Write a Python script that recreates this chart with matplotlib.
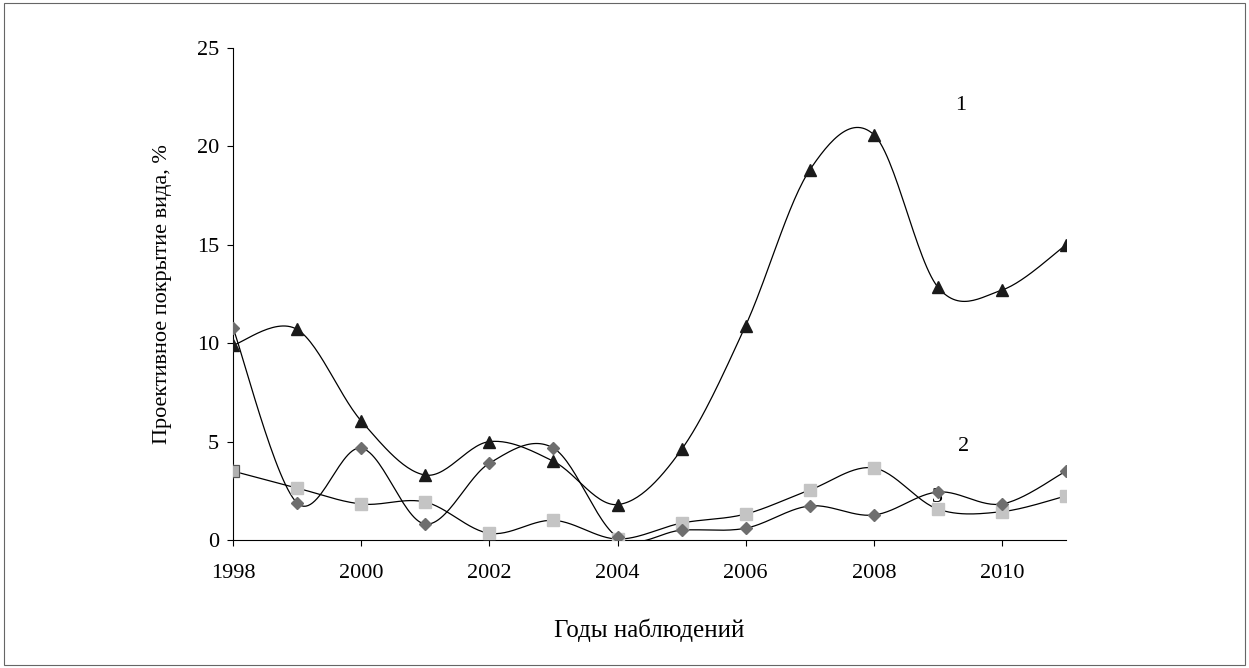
import numpy as np
import matplotlib.pyplot as plt

years = list(range(1998, 2012))
s1 = [9.9, 10.7, 6.05, 3.3, 5.0, 4.0, 1.8, 4.6, 10.9, 18.8, 20.6, 12.85, 12.7, 15.0]
s2 = [10.77, 1.88, 4.67, 0.81, 3.9, 4.67, 0.15, 0.5, 0.6, 1.73, 1.27, 2.44, 1.83, 3.5]
s3 = [3.5, 2.64, 1.83, 1.93, 0.34, 1.0, 0.05, 0.86, 1.32, 2.54, 3.66, 1.57, 1.44, 2.24]


def smooth(x, y, n=30):
    # Excel-like smoothed line: cubic Bezier with Catmull-Rom control points
    x = np.asarray(x, float)
    y = np.asarray(y, float)
    px = np.concatenate([[x[0]], x, [x[-1]]])
    py = np.concatenate([[y[0]], y, [y[-1]]])
    t = np.linspace(0, 1, n)[:, None]
    out_x, out_y = [], []
    for i in range(1, len(px) - 2):
        p0 = np.array([px[i], py[i]])
        p3 = np.array([px[i + 1], py[i + 1]])
        c1 = p0 + (p3 - np.array([px[i - 1], py[i - 1]])) / 6
        c2 = p3 - (np.array([px[i + 2], py[i + 2]]) - p0) / 6
        b = ((1 - t) ** 3) * p0 + 3 * ((1 - t) ** 2) * t * c1 + 3 * (1 - t) * t ** 2 * c2 + t ** 3 * p3
        out_x.extend(b[:, 0])
        out_y.extend(b[:, 1])
    return out_x, out_y


plt.rcParams['font.family'] = ['Liberation Serif', 'DejaVu Serif']

fig = plt.figure(figsize=(12.49, 6.68), dpi=100)
ax = fig.add_axes([0.1866, 0.1916, 0.6669, 0.7365])

for ys in (s1, s2, s3):
    sx, sy = smooth(years, ys)
    ax.plot(sx, sy, color='black', lw=0.9, zorder=2)

ax.text(2009.0, 2.15, '3', fontsize=16, ha='center', va='center', zorder=1)
ax.plot(years, s3, ls='none', marker='s', ms=8, color='#c4c4c4', mec='#c4c4c4', zorder=3)
ax.plot(years[0], s3[0], ls='none', marker='s', ms=8, color='#b0b0b0', mec='#555555', mew=0.8, zorder=4)
ax.plot(years, s2, ls='none', marker='D', ms=6.5, color='#6e6e6e', mec='#6e6e6e', zorder=3)
ax.plot(years, s1, ls='none', marker='^', ms=9, color='#1a1a1a', mec='#1a1a1a', zorder=3)

ax.text(2009.35, 22.1, '1', fontsize=16, ha='center', va='center')
ax.text(2009.4, 4.75, '2', fontsize=16, ha='center', va='center')

ax.set_xlim(1998, 2011)
ax.set_ylim(0, 25)
ax.set_xticks(range(1998, 2011, 2))
ax.set_yticks(range(0, 26, 5))
ax.tick_params(labelsize=16, direction='out', length=4, width=0.8)
ax.tick_params(axis='y', pad=6)
ax.tick_params(axis='x', pad=13)
for s in ('top', 'right'):
    ax.spines[s].set_visible(False)
for s in ('left', 'bottom'):
    ax.spines[s].set_linewidth(0.8)
ax.set_xlabel('Годы наблюдений', fontsize=18, labelpad=26)
ax.set_ylabel('Проективное покрытие вида, %', fontsize=16, labelpad=18)

fig.patches.append(plt.Rectangle((0.003, 0.004), 0.994, 0.992, transform=fig.transFigure,
                                 fill=False, ec='#666666', lw=0.8))

fig.savefig('out.png', dpi=100)
